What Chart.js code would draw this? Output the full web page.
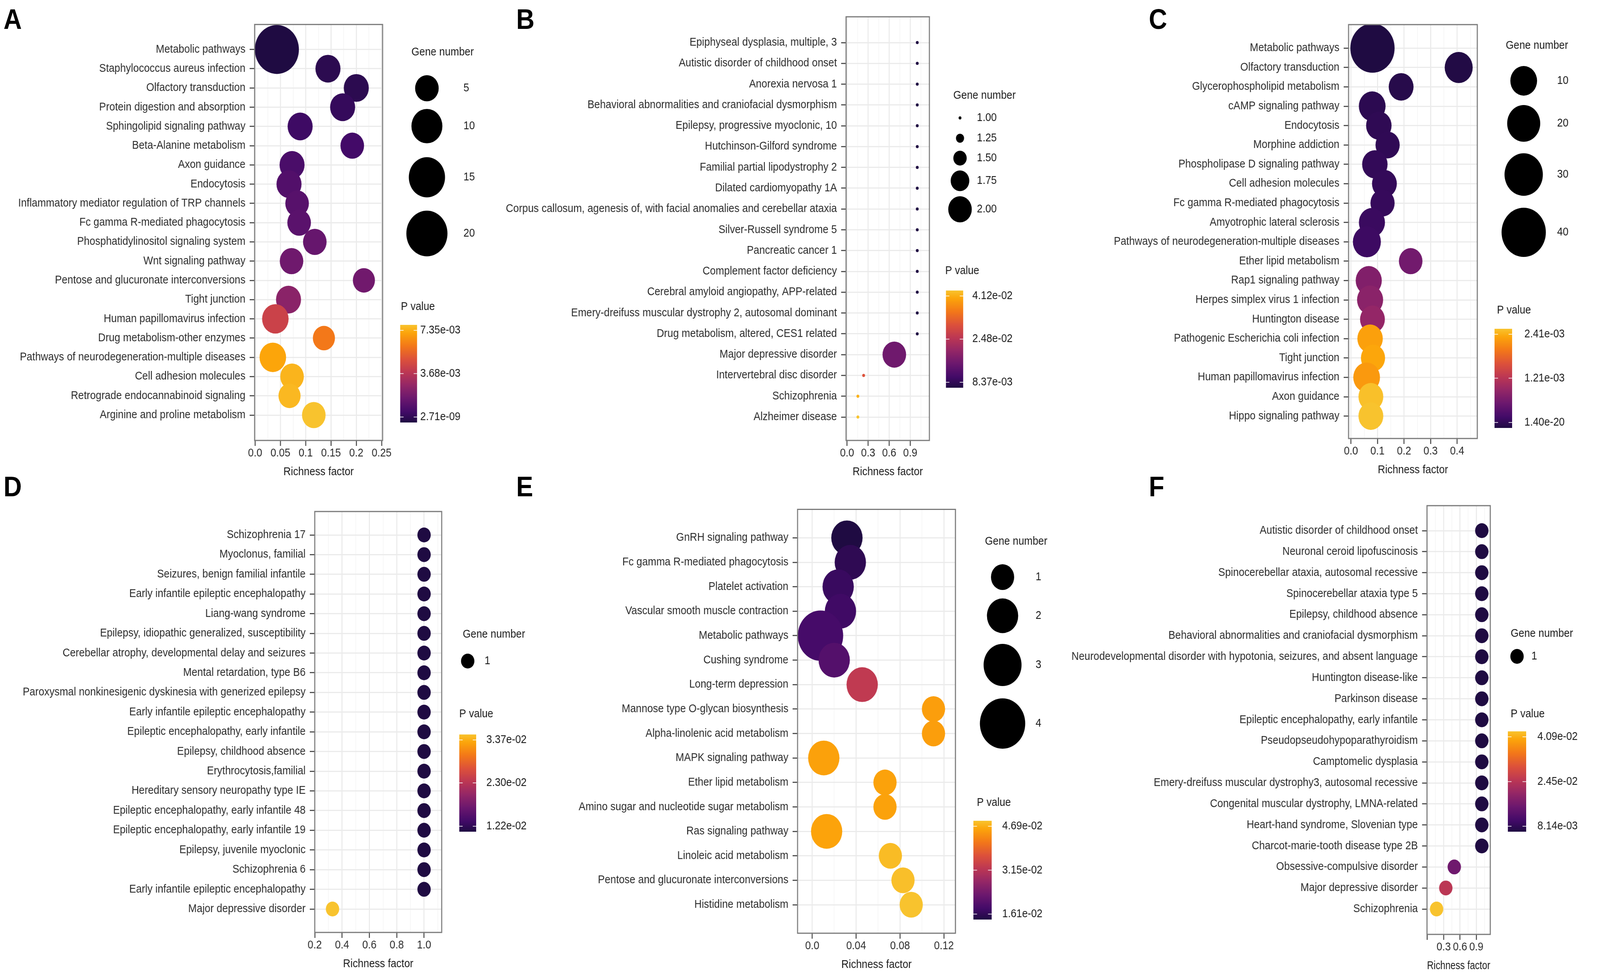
<!DOCTYPE html>
<html>
<head>
<meta charset="utf-8">
<script src="https://cdn.jsdelivr.net/npm/chart.js@4.4.1/dist/chart.umd.min.js"></script>
<style>
html, body { margin: 0; padding: 0; background: #fff; overflow: hidden; }
#page { position: absolute; left: 0; top: 0; width: 4550px; height: 2497px; transform-origin: 0 0; background: #fff; }
canvas { position: absolute; }
.tag { position: absolute; font: bold 72px "Liberation Sans", Arial, sans-serif; line-height: 72px; color: #000; }
</style>
</head>
<body>
<div id="page">
<div class="tag" style="left:10px;top:13px">A</div>
<div class="tag" style="left:1468px;top:13px">B</div>
<div class="tag" style="left:3267px;top:13px">C</div>
<div class="tag" style="left:10px;top:1210px">D</div>
<div class="tag" style="left:1468px;top:1210px">E</div>
<div class="tag" style="left:3267px;top:1210px">F</div>
</div>
<script>
// ---- panel A: KEGG, top left
const aTerms = ['Metabolic pathways', 'Staphylococcus aureus infection', 'Olfactory transduction',
  'Protein digestion and absorption', 'Sphingolipid signaling pathway', 'Beta-Alanine metabolism',
  'Axon guidance', 'Endocytosis', 'Inflammatory mediator regulation of TRP channels',
  'Fc gamma R-mediated phagocytosis', 'Phosphatidylinositol signaling system', 'Wnt signaling pathway',
  'Pentose and glucuronate interconversions', 'Tight junction', 'Human papillomavirus infection',
  'Drug metabolism-other enzymes', 'Pathways of neurodegeneration-multiple diseases',
  'Cell adhesion molecules', 'Retrograde endocannabinoid signaling', 'Arginine and proline metabolism'];
const aRich = [0.043, 0.144, 0.200, 0.173, 0.089, 0.192, 0.073, 0.067, 0.083, 0.087,
  0.118, 0.072, 0.215, 0.066, 0.040, 0.136, 0.035, 0.073, 0.068, 0.116];
const aGenes = [23, 6, 6, 6, 6, 5, 6, 6, 5, 5, 5, 5, 4, 6, 7, 4, 7, 5, 4, 5];
const aPval = [2.71e-9, 2.9e-4, 2.9e-4, 5.1e-4, 7.0e-4, 8.1e-4, 9.9e-4, 1.18e-3, 1.32e-3, 1.40e-3,
  1.69e-3, 1.91e-3, 1.95e-3, 2.57e-3, 4.19e-3, 5.75e-3, 6.76e-3, 7.06e-3, 7.13e-3, 7.35e-3];
const aXTicks = [0, 0.05, 0.1, 0.15, 0.2, 0.25];
const aXLabels = ['0.0', '0.05', '0.1', '0.15', '0.2', '0.25'];
const aSizeBreaks = [5, 10, 15, 20];
const aSizeLabels = ['5', '10', '15', '20'];
const aPLabels = ['7.35e-03', '3.68e-03', '2.71e-09'];

// ---- panel B
const bTerms = ['Epiphyseal dysplasia, multiple, 3', 'Autistic disorder of childhood onset', 'Anorexia nervosa 1',
  'Behavioral abnormalities and craniofacial dysmorphism', 'Epilepsy, progressive myoclonic, 10',
  'Hutchinson-Gilford syndrome', 'Familial partial lipodystrophy 2', 'Dilated cardiomyopathy 1A',
  'Corpus callosum, agenesis of, with facial anomalies and cerebellar ataxia', 'Silver-Russell syndrome 5',
  'Pancreatic cancer 1', 'Complement factor deficiency', 'Cerebral amyloid angiopathy, APP-related',
  'Emery-dreifuss muscular dystrophy 2, autosomal dominant', 'Drug metabolism, altered, CES1 related',
  'Major depressive disorder', 'Intervertebral disc disorder', 'Schizophrenia', 'Alzheimer disease'];
const bRich = [1, 1, 1, 1, 1, 1, 1, 1, 1, 1, 1, 1, 1, 1, 1, 0.673, 0.236, 0.154, 0.154];
const bGenes = [1, 1, 1, 1, 1, 1, 1, 1, 1, 1, 1, 1, 1, 1, 1, 2, 1, 1, 1];
const bPval = [8.37e-3, 8.37e-3, 8.37e-3, 8.37e-3, 8.37e-3, 8.37e-3, 8.37e-3, 8.37e-3, 8.37e-3, 8.37e-3,
  8.37e-3, 8.37e-3, 8.37e-3, 8.37e-3, 8.37e-3, 1.69e-2, 2.97e-2, 3.96e-2, 4.12e-2];
const bXTicks = [0, 0.3, 0.6, 0.9];
const bXLabels = ['0.0', '0.3', '0.6', '0.9'];
const bSizeBreaks = [1, 1.25, 1.5, 1.75, 2];
const bSizeLabels = ['1.00', '1.25', '1.50', '1.75', '2.00'];
const bPLabels = ['4.12e-02', '2.48e-02', '8.37e-03'];

// ---- panel C
const cTerms = ['Metabolic pathways', 'Olfactory transduction', 'Glycerophospholipid metabolism',
  'cAMP signaling pathway', 'Endocytosis', 'Morphine addiction', 'Phospholipase D signaling pathway',
  'Cell adhesion molecules', 'Fc gamma R-mediated phagocytosis', 'Amyotrophic lateral sclerosis',
  'Pathways of neurodegeneration-multiple diseases', 'Ether lipid metabolism', 'Rap1 signaling pathway',
  'Herpes simplex virus 1 infection', 'Huntington disease', 'Pathogenic Escherichia coli infection',
  'Tight junction', 'Human papillomavirus infection', 'Axon guidance', 'Hippo signaling pathway'];
const cRich = [0.081, 0.406, 0.189, 0.080, 0.105, 0.138, 0.090, 0.126, 0.119, 0.079,
  0.060, 0.225, 0.067, 0.072, 0.081, 0.072, 0.083, 0.059, 0.075, 0.075];
const cGenes = [40, 12, 7, 10, 8, 6, 8, 7, 6, 9, 12, 5, 9, 9, 7, 8, 6, 10, 7, 7];
const cPval = [1.40e-20, 2.0e-5, 6.0e-5, 1.0e-4, 1.2e-4, 1.3e-4, 1.5e-4, 1.6e-4, 1.7e-4, 2.0e-4,
  2.2e-4, 6.5e-4, 7.7e-4, 8.4e-4, 9.2e-4, 2.18e-3, 2.22e-3, 2.13e-3, 2.39e-3, 2.41e-3];
const cXTicks = [0, 0.1, 0.2, 0.3, 0.4];
const cXLabels = ['0.0', '0.1', '0.2', '0.3', '0.4'];
const cSizeBreaks = [10, 20, 30, 40];
const cSizeLabels = ['10', '20', '30', '40'];
const cPLabels = ['2.41e-03', '1.21e-03', '1.40e-20'];

// ---- panel D
const dTerms = ['Schizophrenia 17', 'Myoclonus, familial', 'Seizures, benign familial infantile',
  'Early infantile epileptic encephalopathy', 'Liang-wang syndrome',
  'Epilepsy, idiopathic generalized, susceptibility', 'Cerebellar atrophy, developmental delay and seizures',
  'Mental retardation, type B6', 'Paroxysmal nonkinesigenic dyskinesia with generized epilepsy',
  'Early infantile epileptic encephalopathy', 'Epileptic encephalopathy, early infantile',
  'Epilepsy, childhood absence', 'Erythrocytosis,familial', 'Hereditary sensory neuropathy type IE',
  'Epileptic encephalopathy, early infantile 48', 'Epileptic encephalopathy, early infantile 19',
  'Epilepsy, juvenile myoclonic', 'Schizophrenia 6', 'Early infantile epileptic encephalopathy',
  'Major depressive disorder'];
const dRich = [1, 1, 1, 1, 1, 1, 1, 1, 1, 1, 1, 1, 1, 1, 1, 1, 1, 1, 1, 0.33];
const dGenes = [1, 1, 1, 1, 1, 1, 1, 1, 1, 1, 1, 1, 1, 1, 1, 1, 1, 1, 1, 1];
const dPval = [1.22e-2, 1.22e-2, 1.22e-2, 1.22e-2, 1.22e-2, 1.22e-2, 1.22e-2, 1.22e-2, 1.22e-2, 1.22e-2,
  1.22e-2, 1.22e-2, 1.22e-2, 1.22e-2, 1.22e-2, 1.22e-2, 1.22e-2, 1.22e-2, 1.22e-2, 3.37e-2];
const dXTicks = [0.2, 0.4, 0.6, 0.8, 1.0];
const dXLabels = ['0.2', '0.4', '0.6', '0.8', '1.0'];
const dSizeBreaks = [1];
const dSizeLabels = ['1'];
const dPLabels = ['3.37e-02', '2.30e-02', '1.22e-02'];

// ---- panel E
const eTerms = ['GnRH signaling pathway', 'Fc gamma R-mediated phagocytosis', 'Platelet activation',
  'Vascular smooth muscle contraction', 'Metabolic pathways', 'Cushing syndrome', 'Long-term depression',
  'Mannose type O-glycan biosynthesis', 'Alpha-linolenic acid metabolism', 'MAPK signaling pathway',
  'Ether lipid metabolism', 'Amino sugar and nucleotide sugar metabolism', 'Ras signaling pathway',
  'Linoleic acid metabolism', 'Pentose and glucuronate interconversions', 'Histidine metabolism'];
const eRich = [0.0316, 0.0347, 0.0236, 0.0257, 0.0075, 0.0200, 0.0455, 0.1105,
  0.1105, 0.0105, 0.0663, 0.0663, 0.0131, 0.0712, 0.0827, 0.0902];
const eGenes = [2, 2, 2, 2, 4, 2, 2, 1, 1, 2, 1, 1, 2, 1, 1, 1];
const ePval = [1.61e-2, 1.76e-2, 1.86e-2, 1.92e-2, 1.98e-2, 2.13e-2, 3.24e-2, 4.38e-2,
  4.38e-2, 4.40e-2, 4.41e-2, 4.41e-2, 4.42e-2, 4.63e-2, 4.66e-2, 4.69e-2];
const eXTicks = [0, 0.04, 0.08, 0.12];
const eXLabels = ['0.0', '0.04', '0.08', '0.12'];
const eSizeBreaks = [1, 2, 3, 4];
const eSizeLabels = ['1', '2', '3', '4'];
const ePLabels = ['4.69e-02', '3.15e-02', '1.61e-02'];

// ---- panel F
const fTerms = ['Autistic disorder of childhood onset', 'Neuronal ceroid lipofuscinosis',
  'Spinocerebellar ataxia, autosomal recessive', 'Spinocerebellar ataxia type 5', 'Epilepsy, childhood absence',
  'Behavioral abnormalities and craniofacial dysmorphism',
  'Neurodevelopmental disorder with hypotonia, seizures, and absent language', 'Huntington disease-like',
  'Parkinson disease', 'Epileptic encephalopathy, early infantile', 'Pseudopseudohypoparathyroidism',
  'Camptomelic dysplasia', 'Emery-dreifuss muscular dystrophy3, autosomal recessive',
  'Congenital muscular dystrophy, LMNA-related', 'Heart-hand syndrome, Slovenian type',
  'Charcot-marie-tooth disease type 2B', 'Obsessive-compulsive disorder', 'Major depressive disorder',
  'Schizophrenia'];
const fRich = [1, 1, 1, 1, 1, 1, 1, 1, 1, 1, 1, 1, 1, 1, 1, 1, 0.495, 0.339, 0.17];
const fGenes = [1, 1, 1, 1, 1, 1, 1, 1, 1, 1, 1, 1, 1, 1, 1, 1, 1, 1, 1];
const fPval = [8.14e-3, 8.14e-3, 8.14e-3, 8.14e-3, 8.14e-3, 8.14e-3, 8.14e-3, 8.14e-3, 8.14e-3, 8.14e-3,
  8.14e-3, 8.14e-3, 8.14e-3, 8.14e-3, 8.14e-3, 8.14e-3, 1.67e-2, 2.49e-2, 4.09e-2];
const fXTicks = [0, 0.3, 0.6, 0.9];
const fXLabels = ['', '0.3', '0.6', '0.9'];
const fSizeBreaks = [1];
const fSizeLabels = ['1'];
const fPLabels = ['4.09e-02', '2.45e-02', '8.14e-03'];

// ---- look
const FONT = '"Liberation Sans", Arial, sans-serif';
const TXT = 29;
Chart.defaults.font.family = FONT;
const page = document.getElementById('page');

const INFERNO = ['#000004', '#160b39', '#420a68', '#6a176e', '#932667', '#bc3754',
  '#dd513a', '#f37819', '#fca50a', '#f6d746', '#fcffa4'].map(h =>
  [parseInt(h.slice(1, 3), 16), parseInt(h.slice(3, 5), 16), parseInt(h.slice(5, 7), 16)]);
function inferno(u) {
  u = Math.max(0, Math.min(1, u));
  const s = u * 10, i = Math.min(9, Math.floor(s)), f = s - i;
  const a = INFERNO[i], b = INFERNO[i + 1];
  return 'rgb(' + a.map((c, k) => Math.round(c + (b[k] - c) * f)).join(',') + ')';
}
// colour bar runs over the middle part of inferno
function pColor(t) { return inferno(0.12 + 0.74 * t); }

// diameter of a key circle, piecewise between the legend breaks
function keyDiam(v, breaks, ds) {
  if (breaks.length === 1) return ds[0];
  let i = 0;
  while (i < breaks.length - 2 && v > breaks[i + 1]) i++;
  const f = (v - breaks[i]) / (breaks[i + 1] - breaks[i]);
  return Math.max(4, ds[i] + f * (ds[i + 1] - ds[i]));
}

function drawPanel(terms, rich, genes, pvals, xTicks, xLabels, sizeBreaks, sizeLabels, pLabels, L) {
  const [cx, cy, cw, ch] = L.canvas;
  const [pl, pr, pt, pb] = L.plot;
  const canvas = document.createElement('canvas');
  canvas.width = cw; canvas.height = ch;
  canvas.style.left = cx + 'px'; canvas.style.top = cy + 'px';
  canvas.style.width = cw + 'px'; canvas.style.height = ch + 'px';
  page.appendChild(canvas);

  const n = terms.length;
  const step = (L.rows[1] - L.rows[0]) / (n - 1);
  const yMin = -(L.rows[0] - pt) / step;
  const yMax = (n - 1) + (pb - L.rows[1]) / step;

  const pMin = Math.min(...pvals), pMax = Math.max(...pvals);
  const tOf = p => (p - pMin) / (pMax - pMin);
  const dOf = v => keyDiam(v, sizeBreaks, L.keyD);

  // minor grid half way between the breaks, like ggplot
  const half = (xTicks[xTicks.length - 1] - xTicks[xTicks.length - 2]) / 2;
  const minor = [xTicks[0] - half].concat(xTicks.map(v => v + half))
    .map(v => +v.toFixed(10)).filter(v => v > L.xr[0] && v < L.xr[1]);
  const allX = xTicks.concat(minor).sort((a, b) => a - b);
  const isMajor = v => xTicks.some(t => Math.abs(t - v) < 1e-9);

  const titleY = pb + 81 - cy;

  const ggKeys = {
    id: 'ggKeys',
    afterDraw(chart) {
      const ctx = chart.ctx, a = chart.chartArea;
      ctx.save();
      ctx.strokeStyle = '#7a7a7a';
      ctx.lineWidth = 3;
      ctx.strokeRect(a.left, a.top, a.right - a.left, a.bottom - a.top);

      ctx.font = TXT + 'px ' + FONT;
      ctx.textBaseline = 'middle';
      ctx.textAlign = 'left';
      const S = L.sizeKey;
      ctx.fillStyle = '#1a1a1a';
      ctx.fillText('Gene number', S.tx - cx, S.ty - cy);
      sizeBreaks.forEach((b, i) => {
        ctx.beginPath();
        ctx.arc(S.cx - cx, S.cy[i] - cy, dOf(b) / 2, 0, 2 * Math.PI);
        ctx.fillStyle = '#000';
        ctx.fill();
        ctx.fillStyle = '#1a1a1a';
        ctx.fillText(sizeLabels[i], S.lx - cx, S.cy[i] - cy);
      });

      const K = L.colorKey;
      ctx.fillText('P value', K.tx - cx, K.ty - cy);
      const g = ctx.createLinearGradient(0, K.y1 - cy, 0, K.y0 - cy);
      for (let s = 0; s <= 40; s++) g.addColorStop(s / 40, pColor(s / 40));
      ctx.fillStyle = g;
      ctx.fillRect(K.x0 - cx, K.y0 - cy, K.x1 - K.x0, K.y1 - K.y0);
      const inset = 14, bw = K.x1 - K.x0;
      pLabels.forEach(lab => {
        const t = tOf(parseFloat(lab));
        const y = K.y1 - inset - t * (K.y1 - K.y0 - 2 * inset) - cy;
        ctx.strokeStyle = 'rgba(255,255,255,0.8)';
        ctx.lineWidth = 2;
        ctx.beginPath();
        ctx.moveTo(K.x0 - cx, y); ctx.lineTo(K.x0 - cx + bw / 5, y);
        ctx.moveTo(K.x1 - cx - bw / 5, y); ctx.lineTo(K.x1 - cx, y);
        ctx.stroke();
        ctx.fillStyle = '#1a1a1a';
        ctx.fillText(lab, K.lx - cx, y);
      });
      ctx.restore();
    }
  };

  return new Chart(canvas, {
    type: 'bubble',
    data: {
      datasets: [{
        data: terms.map((t, i) => ({ x: rich[i], y: i, r: dOf(genes[i]) / 2 })),
        backgroundColor: pvals.map(p => pColor(tOf(p))),
        borderWidth: 0,
        hoverBorderWidth: 0
      }]
    },
    options: {
      responsive: false,
      devicePixelRatio: 1,
      animation: false,
      events: [],
      layout: { padding: { left: 0, bottom: 0, top: pt - cy, right: cx + cw - pr } },
      plugins: { legend: { display: false }, tooltip: { enabled: false } },
      scales: {
        x: {
          type: 'linear',
          min: L.xr[0], max: L.xr[1],
          afterFit: s => { s.height = cy + ch - pb; },
          afterBuildTicks: s => { s.ticks = allX.map(v => ({ value: v })); },
          ticks: {
            autoSkip: false, maxRotation: 0, minRotation: 0, padding: 2,
            color: '#2b2b2b', font: { size: TXT },
            callback: v => {
              const k = xTicks.findIndex(t => Math.abs(t - v) < 1e-9);
              return k < 0 ? '' : xLabels[k];
            }
          },
          grid: {
            color: c => isMajor(c.tick.value) ? '#ebebeb' : '#f3f3f3',
            lineWidth: c => isMajor(c.tick.value) ? 3 : 1.5,
            tickLength: 14,
            tickWidth: 3,
            tickColor: c => isMajor(c.tick.value) ? '#555' : 'rgba(0,0,0,0)'
          },
          border: { display: false },
          title: {
            display: true, text: 'Richness factor', color: '#1a1a1a',
            font: { size: TXT, lineHeight: 1.2 },
            padding: { top: 0, bottom: ch - titleY - TXT * 0.6 }
          }
        },
        y: {
          type: 'linear',
          reverse: true,
          min: yMin, max: yMax,
          afterFit: s => { s.width = pl - cx; },
          afterBuildTicks: s => { s.ticks = terms.map((t, i) => ({ value: i })); },
          ticks: {
            autoSkip: false, padding: 12, color: '#2b2b2b', font: { size: TXT },
            callback: v => terms[v]
          },
          grid: { color: '#ebebeb', lineWidth: 3, tickLength: 14, tickWidth: 3, tickColor: '#555' },
          border: { display: false }
        }
      }
    },
    plugins: [ggKeys]
  });
}

drawPanel(aTerms, aRich, aGenes, aPval, aXTicks, aXLabels, aSizeBreaks, aSizeLabels, aPLabels, {
  canvas: [0, 0, 1420, 1240], plot: [724, 1088, 46, 1128], rows: [111, 1062], xr: [-0.001, 0.252],
  keyD: [67, 88, 103, 117],
  sizeKey: { tx: 1170, ty: 134, cx: 1214, cy: [226, 323, 454, 598], lx: 1318 },
  colorKey: { tx: 1140, ty: 786, x0: 1138, x1: 1186, y0: 832, y1: 1082, lx: 1195 }
});
drawPanel(bTerms, bRich, bGenes, bPval, bXTicks, bXLabels, bSizeBreaks, bSizeLabels, bPLabels, {
  canvas: [1420, 0, 1560, 1240], plot: [2406, 2643, 43, 1128], rows: [109, 1068], xr: [-0.014, 1.173],
  keyD: [8, 23, 38, 53, 67],
  sizeKey: { tx: 2711, ty: 245, cx: 2730, cy: [302, 354, 405, 463, 536], lx: 2778 },
  colorKey: { tx: 2688, ty: 694, x0: 2690, x1: 2739, y0: 744, y1: 993, lx: 2765 }
});
drawPanel(cTerms, cRich, cGenes, cPval, cXTicks, cXLabels, cSizeBreaks, cSizeLabels, cPLabels, {
  canvas: [3080, 0, 1470, 1240], plot: [3835, 4201, 33, 1123], rows: [95, 1064], xr: [-0.009, 0.476],
  keyD: [76, 94, 109, 126],
  sizeKey: { tx: 4282, ty: 117, cx: 4333, cy: [207, 316, 447, 595], lx: 4428 },
  colorKey: { tx: 4257, ty: 795, x0: 4250, x1: 4300, y0: 842, y1: 1096, lx: 4335 }
});
drawPanel(dTerms, dRich, dGenes, dPval, dXTicks, dXLabels, dSizeBreaks, dSizeLabels, dPLabels, {
  canvas: [0, 1240, 1500, 1257], plot: [895, 1256, 1310, 2388], rows: [1370, 2328], xr: [0.2, 1.129],
  keyD: [38],
  sizeKey: { tx: 1316, ty: 1625, cx: 1330, cy: [1693], lx: 1378 },
  colorKey: { tx: 1306, ty: 1829, x0: 1306, x1: 1354, y0: 1881, y1: 2130, lx: 1383 }
});
drawPanel(eTerms, eRich, eGenes, ePval, eXTicks, eXLabels, eSizeBreaks, eSizeLabels, ePLabels, {
  canvas: [1500, 1240, 1520, 1257], plot: [2268, 2717, 1303, 2390], rows: [1376, 2317], xr: [-0.0134, 0.1305],
  keyD: [66, 89, 108, 129],
  sizeKey: { tx: 2801, ty: 1387, cx: 2851, cy: [1478, 1577, 1703, 1853], lx: 2945 },
  colorKey: { tx: 2778, ty: 2056, x0: 2768, x1: 2820, y0: 2102, y1: 2355, lx: 2850 }
});
drawPanel(fTerms, fRich, fGenes, fPval, fXTicks, fXLabels, fSizeBreaks, fSizeLabels, fPLabels, {
  canvas: [3020, 1240, 1530, 1257], plot: [4058, 4238, 1295, 2393], rows: [1359, 2328], xr: [-0.006, 1.156],
  keyD: [38],
  sizeKey: { tx: 4296, ty: 1623, cx: 4314, cy: [1681], lx: 4355 },
  colorKey: { tx: 4296, ty: 1829, x0: 4288, x1: 4340, y0: 1873, y1: 2130, lx: 4372 }
});

// fit the 4550 x 2497 figure into whatever viewport we were given
const sx = Math.min(1, window.innerWidth / 4550), sy = Math.min(1, window.innerHeight / 2497);
if (sx < 1 || sy < 1) page.style.transform = 'scale(' + sx + ',' + sy + ')';
</script>
</body>
</html>
